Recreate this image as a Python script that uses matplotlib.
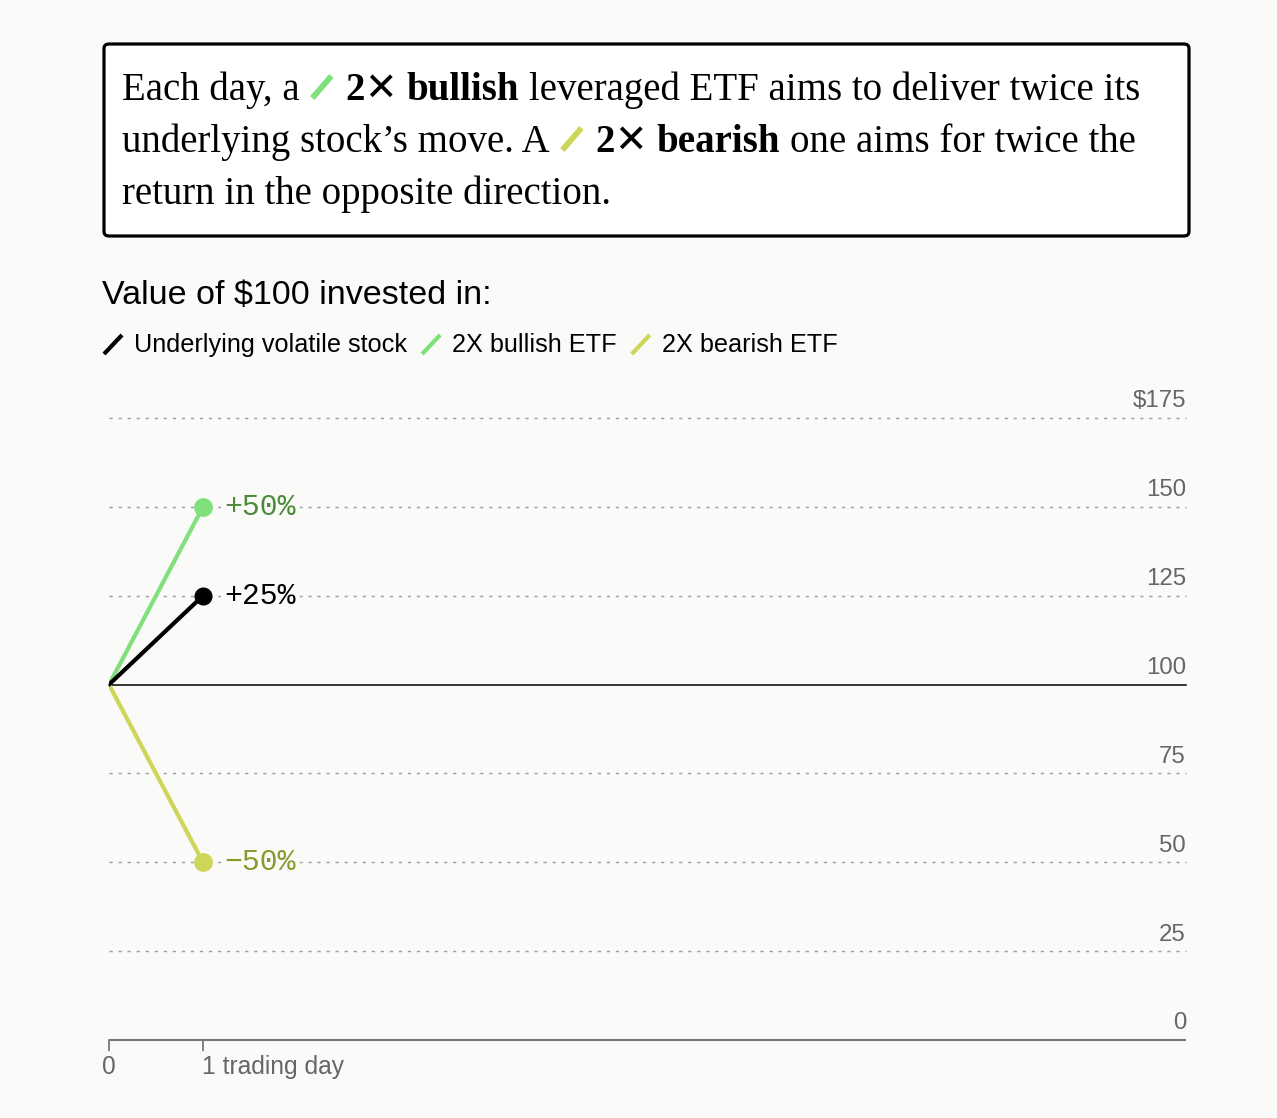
import matplotlib
matplotlib.use("Agg")
import matplotlib.pyplot as plt
from matplotlib.patches import FancyBboxPatch
from matplotlib.lines import Line2D

# ---------------- data ----------------
days = [0, 1]
stock = [100, 125]
bullish = [100, 150]
bearish = [100, 50]
end_labels = ["+25%", "+50%", "\u221250%"]
y_ticks = [0, 25, 50, 75, 100, 125, 150, 175]
y_tick_labels = ["0", "25", "50", "75", "100", "125", "150", "$175"]
x_tick_labels = ["0", "1 trading day"]
legend_labels = ["Underlying volatile stock", "2X bullish ETF", "2X bearish ETF"]

# ---------------- style ----------------
W, H = 1277, 1118
DPI = 100
BG = "#fafaf8"
C_STOCK = "#000000"
C_BULL = "#80e07c"
C_BEAR = "#cdd658"
C_BULL_TXT = "#4a8a38"
C_BEAR_TXT = "#879a2c"
GRAY = "#666666"
SANS = ["Liberation Sans", "DejaVu Sans"]
SERIF = ["Liberation Serif", "DejaVu Serif"]
MONO = ["Liberation Mono", "DejaVu Sans Mono"]

fig = plt.figure(figsize=(W / DPI, H / DPI), dpi=DPI, facecolor=BG)


def fx(px):
    return px / W


def fy(py):
    return 1 - py / H


# ---------------- header box ----------------
box = FancyBboxPatch((fx(104), fy(236)), fx(1189 - 104), (236 - 44) / H,
                     boxstyle="round,pad=0,rounding_size=0.004",
                     transform=fig.transFigure, facecolor="white",
                     edgecolor="black", linewidth=2.3)
fig.patches.append(box)

renderer = fig.canvas.get_renderer()


def text_width(s, **kw):
    t = fig.text(0, 0, s, **kw)
    w = t.get_window_extent(renderer=renderer).width
    t.remove()
    return w


def place_runs(runs, x0, ybase):
    x = x0
    for run in runs:
        if run[0] == "icon":
            color = run[1]
            fig.add_artist(Line2D([fx(x + 3), fx(x + 22)], [fy(ybase - 2), fy(ybase - 24)],
                                  transform=fig.transFigure, color=color, lw=4.2,
                                  solid_capstyle="butt"))
            x += 26
        elif run[0] == "space":
            kw = run[1]
            x += text_width("x x", **kw) - text_width("xx", **kw)
        else:
            s, kw = run[1], run[2]
            t = fig.text(fx(x), fy(ybase), s, ha="left", va="baseline", **kw)
            x += t.get_window_extent(renderer=renderer).width


BOX_FS = 28
reg = dict(fontsize=BOX_FS, family=SERIF, color="black")
bold = dict(fontsize=BOX_FS, family=SERIF, color="black", weight="bold")
crossfont = dict(fontsize=BOX_FS * 1.0, family=["DejaVu Sans"], color="black", weight="bold")

sp = ("space", reg)
place_runs([("t", "Each day, a", reg), sp, ("icon", C_BULL), sp,
            ("t", "2", bold), ("t", "\u2715", crossfont), sp, ("t", "bullish", bold), sp,
            ("t", "leveraged ETF aims to deliver twice its", reg)], 122, 100)
place_runs([("t", "underlying stock\u2019s move. A", reg), sp, ("icon", C_BEAR), sp,
            ("t", "2", bold), ("t", "\u2715", crossfont), sp, ("t", "bearish", bold), sp,
            ("t", "one aims for twice the", reg)], 122, 152)
place_runs([("t", "return in the opposite direction.", reg)], 122, 204)

# ---------------- title & legend ----------------
fig.text(fx(102), fy(304), "Value of $100 invested in:", fontsize=24.5, family=SANS,
         color="black", ha="left", va="baseline")

leg_colors = [C_STOCK, C_BULL, C_BEAR]
x = 103
for lab, col in zip(legend_labels, leg_colors):
    fig.add_artist(Line2D([fx(x + 1), fx(x + 19)], [fy(354), fy(335)],
                          transform=fig.transFigure, color=col, lw=3.0,
                          solid_capstyle="butt"))
    t = fig.text(fx(x + 31), fy(352), lab, fontsize=18.2, family=SANS, color="black",
                 ha="left", va="baseline")
    x = x + 31 + t.get_window_extent(renderer=renderer).width + 14

# ---------------- chart ----------------
ax = fig.add_axes([fx(109), 1 - 1040 / H, fx(1186 - 109), (1040 - 418) / H])
ax.set_facecolor("none")
xmax = (1186 - 109) / (203 - 109)
ax.set_xlim(0, xmax)
ax.set_ylim(0, 175)
for s in ax.spines.values():
    s.set_visible(False)
ax.set_yticks([])
ax.set_xticks([])

for v in y_ticks:
    if v == 0:
        continue
    if v == 100:
        ax.axhline(v, color="black", lw=1.1, zorder=1, clip_on=False)
    else:
        ax.axhline(v, color="#9e9e9e", lw=1.05, dashes=(2.2, 4.0), zorder=1, clip_on=False)

for v, lab in zip(y_ticks, y_tick_labels):
    ax.annotate(lab, xy=(1, v), xycoords=("axes fraction", "data"),
                xytext=(0, 4), textcoords="offset points", ha="right", va="bottom",
                fontsize=17.3, family=SANS, color=GRAY)

# x axis line
ax.plot([0, xmax], [0, 0], color="#777777", lw=1.5, clip_on=False, zorder=2,
        solid_capstyle="butt")
# tick marks drawn as short vertical lines below the axis
for xv in days:
    ax.annotate("", xy=(xv, 0), xycoords=("data", "axes fraction"),
                xytext=(0, -7.5), textcoords="offset points",
                arrowprops=dict(arrowstyle="-", color="#777777", lw=1.3,
                                shrinkA=0, shrinkB=0))
ax.annotate(x_tick_labels[0], xy=(0, 0), xycoords=("data", "axes fraction"),
            xytext=(0, -11), textcoords="offset points", ha="center", va="top",
            fontsize=17.7, family=SANS, color=GRAY)
ax.annotate(x_tick_labels[1], xy=(1, 0), xycoords=("data", "axes fraction"),
            xytext=(-0.5, -11), textcoords="offset points", ha="left", va="top",
            fontsize=17.7, family=SANS, color=GRAY)

# series
ax.plot(days, bearish, color=C_BEAR, lw=3.0, zorder=3, solid_capstyle="round")
ax.plot(days, bullish, color=C_BULL, lw=3.0, zorder=3, solid_capstyle="round")
ax.plot(days, stock, color=C_STOCK, lw=3.0, zorder=4, solid_capstyle="round")
ax.plot(days[1], bearish[1], "o", color=C_BEAR, ms=12.5, zorder=5, clip_on=False)
ax.plot(days[1], bullish[1], "o", color=C_BULL, ms=12.5, zorder=5, clip_on=False)
ax.plot(days[1], stock[1], "o", color=C_STOCK, ms=12, zorder=5, clip_on=False)

for yv, lab, col in [(stock[1], end_labels[0], "black"),
                     (bullish[1], end_labels[1], C_BULL_TXT),
                     (bearish[1], end_labels[2], C_BEAR_TXT)]:
    ax.annotate(lab, xy=(days[1], yv), xytext=(15.5, 0), textcoords="offset points",
                ha="left", va="center", fontsize=21.5, family=MONO, color=col, zorder=6,
                bbox=dict(boxstyle="square,pad=0.12", facecolor=BG, edgecolor="none"))

fig.savefig("out.png", dpi=DPI, facecolor=BG)
